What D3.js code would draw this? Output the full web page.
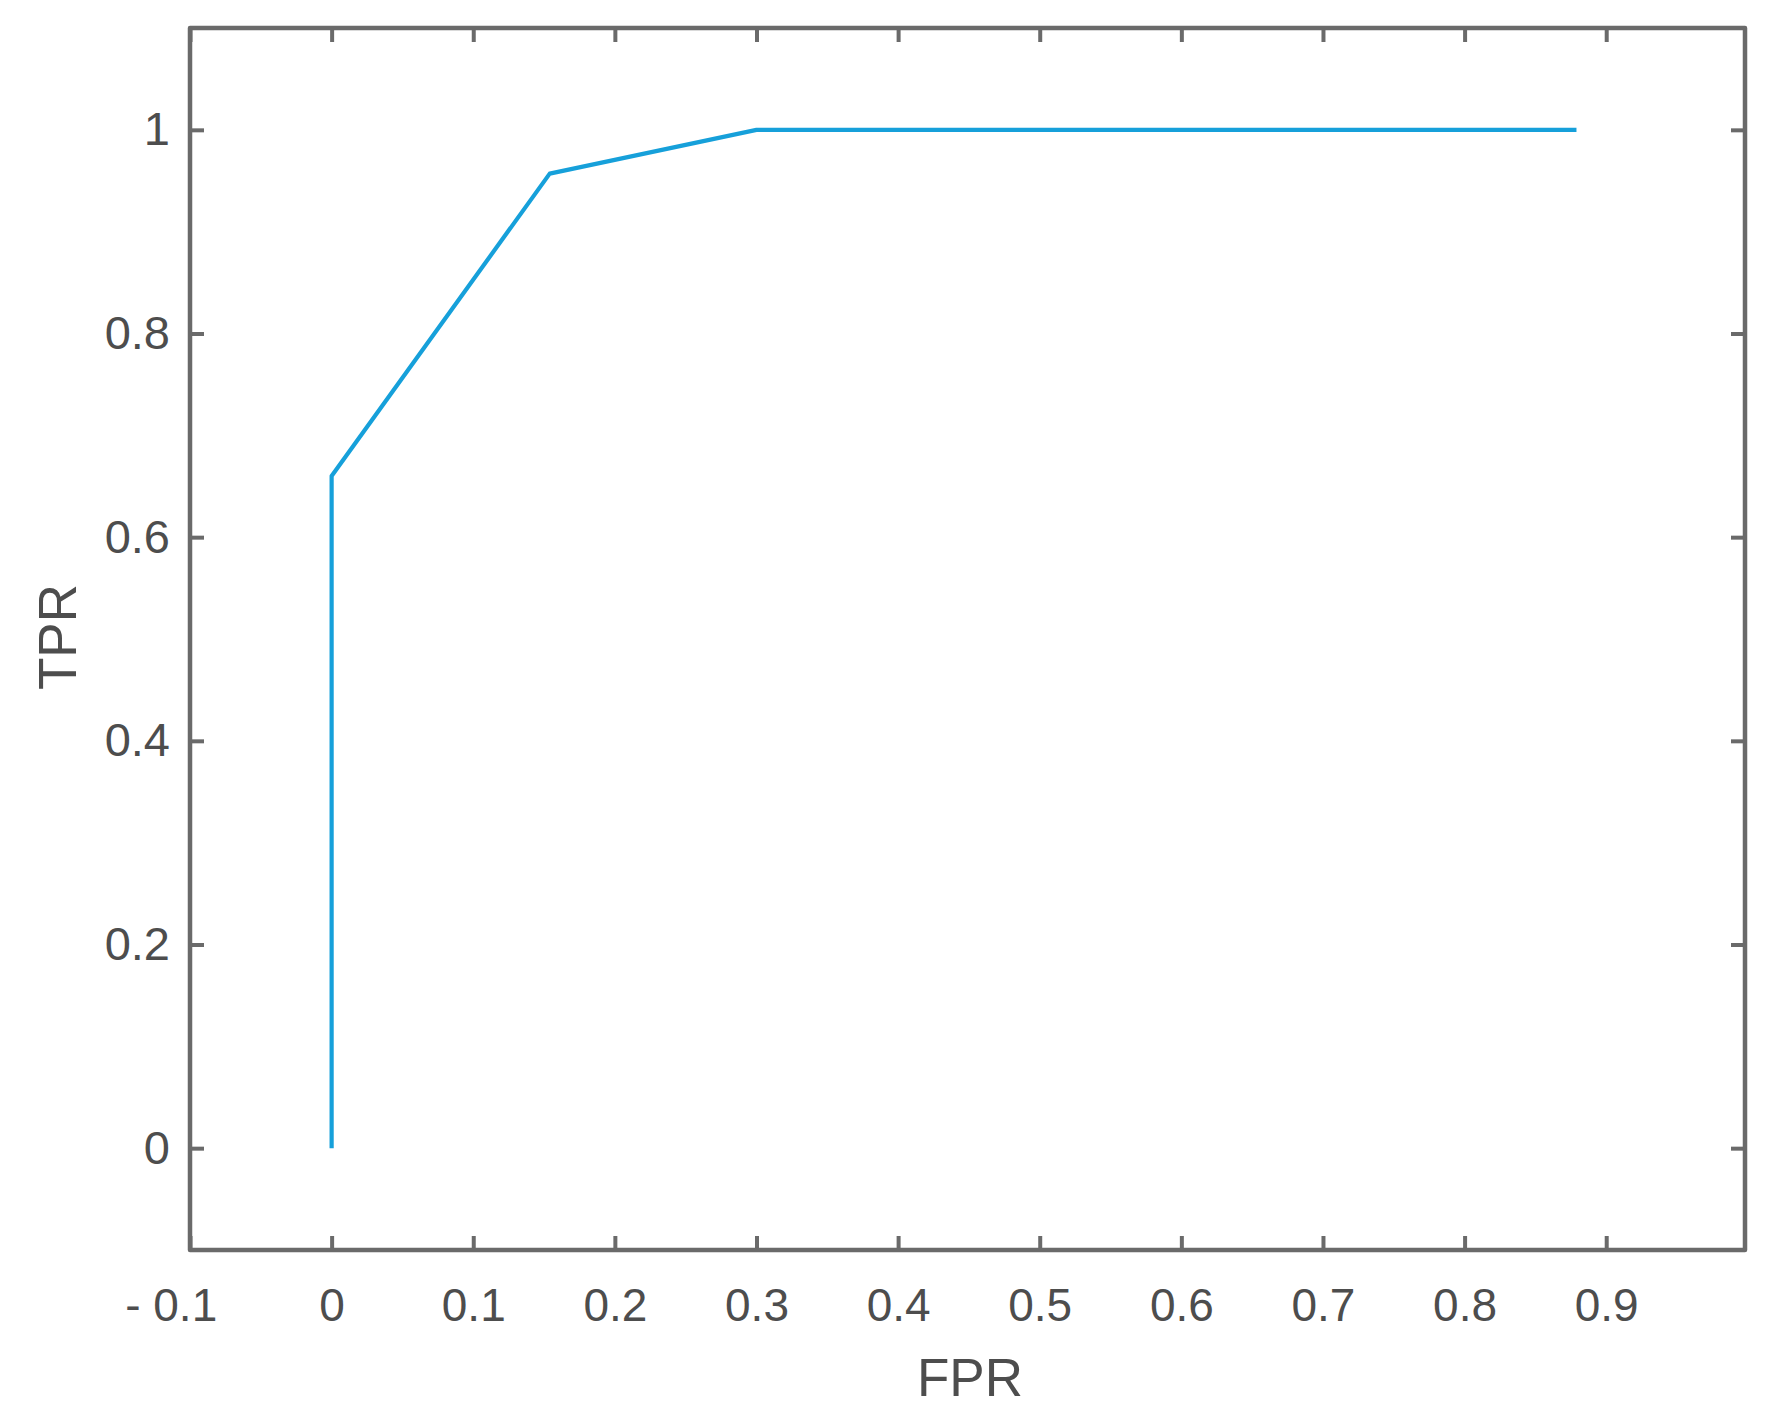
<!DOCTYPE html>
<html>
<head>
<meta charset="utf-8">
<script src="https://cdn.jsdelivr.net/npm/d3@7"></script>
<style>
  body { margin: 0; background: #fff; }
  .chart text { font-family: "Liberation Sans", Arial, sans-serif; fill: #4d4d4d; }
</style>
</head>
<body>
<div id="chart"></div>
<script>
// ROC curve points
const fpr = [0, 0, 0.154, 0.3, 0.879];
const tpr = [0, 0.66, 0.957, 1.0, 1.0];

const xTicks = [-0.1, 0, 0.1, 0.2, 0.3, 0.4, 0.5, 0.6, 0.7, 0.8, 0.9];
const yTicks = [0, 0.2, 0.4, 0.6, 0.8, 1];
const xDomain = [-0.1, 0.998];
const yDomain = [-0.1, 1.1];

const width = 1787, height = 1424;
const margins = { top: 28, right: 42, bottom: 174, left: 190 };
const chartWidth = width - margins.left - margins.right;
const chartHeight = height - margins.top - margins.bottom;

const axisColor = '#6a6a6a';

const container = d3.select('#chart').append('svg')
  .attr('class', 'chart')
  .attr('width', width)
  .attr('height', height);

const svg = container.append('g')
  .attr('transform', `translate(${margins.left},${margins.top})`);

const xScale = d3.scaleLinear().domain(xDomain).range([0, chartWidth]);
const yScale = d3.scaleLinear().domain(yDomain).range([chartHeight, 0]);

const fmt = d => {
  if (d === 0) return '0';
  if (d < 0) return '- ' + Math.abs(d);
  return String(d);
};

// bottom axis (ticks point inward)
const xAxis = d3.axisBottom(xScale).tickValues(xTicks).tickFormat(fmt)
  .tickSizeInner(-14).tickSizeOuter(0).tickPadding(38);
const gx = svg.append('g')
  .attr('transform', `translate(0,${chartHeight})`)
  .call(xAxis);
gx.selectAll('text').style('font-size', '46px')
  .attr('dx', d => d < 0 ? '-0.42em' : 0);

// top mirror ticks
svg.append('g').call(d3.axisTop(xScale).tickValues(xTicks).tickFormat('')
  .tickSizeInner(-14).tickSizeOuter(0));

// left axis
const yAxis = d3.axisLeft(yScale).tickValues(yTicks).tickFormat(fmt)
  .tickSizeInner(-14).tickSizeOuter(0).tickPadding(20);
const gy = svg.append('g').call(yAxis);
gy.selectAll('text').style('font-size', '47px');

// right mirror ticks
svg.append('g')
  .attr('transform', `translate(${chartWidth},0)`)
  .call(d3.axisRight(yScale).tickValues(yTicks).tickFormat('')
    .tickSizeInner(-14).tickSizeOuter(0));

svg.selectAll('.domain').remove();
svg.selectAll('.tick line')
  .attr('stroke', axisColor)
  .attr('stroke-width', 4);

// box
svg.append('rect')
  .attr('x', 0).attr('y', 0)
  .attr('width', chartWidth).attr('height', chartHeight)
  .attr('fill', 'none')
  .attr('stroke', axisColor)
  .attr('stroke-width', 4.5)
  .attr('stroke-linejoin', 'round');

// ROC line
const pts = fpr.map((d, i) => [d, tpr[i]]);
const line = d3.line().x(d => xScale(d[0])).y(d => yScale(d[1]));
svg.append('path')
  .datum(pts)
  .attr('d', line)
  .attr('fill', 'none')
  .attr('stroke', '#16a0da')
  .attr('stroke-width', 4.2)
  .attr('stroke-linejoin', 'round');

// axis labels
container.append('text')
  .attr('x', 970).attr('y', 1396)
  .attr('text-anchor', 'middle')
  .style('font-size', '53px')
  .text('FPR');

container.append('text')
  .attr('transform', 'translate(76,637) rotate(-90)')
  .attr('text-anchor', 'middle')
  .style('font-size', '53px')
  .text('TPR');
</script>
</body>
</html>
